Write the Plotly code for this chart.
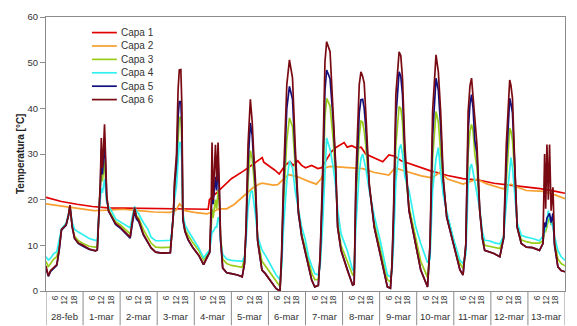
import plotly.graph_objects as go

# ---- data -------------------------------------------------------------
day_labels = ["28-feb", "1-mar", "2-mar", "3-mar", "4-mar", "5-mar", "6-mar",
              "7-mar", "8-mar", "9-mar", "10-mar", "11-mar", "12-mar", "13-mar"]
hour_ticks = [6, 12, 18]
series_names = ["Capa 1", "Capa 2", "Capa 3", "Capa 4", "Capa 5", "Capa 6"]

# Capa 1 (hours since 28-feb 00:00, temperature °C)
hours_c1 = [0, 10, 20, 30, 40, 60, 80, 100, 105, 105.8, 112, 120, 128, 134, 138, 140,
            141, 144, 148, 151, 153, 155, 158, 160, 163, 165.5, 168, 172, 176, 178.5,
            182, 185, 188, 193, 195, 198, 201, 204, 207, 213, 218, 222, 226, 230, 240,
            249, 260, 270, 280, 290, 300, 311, 320, 330, 336]
capa1 = [20.5, 19.6, 19.0, 18.5, 18.2, 18.1, 18.0, 17.9, 17.9, 20.0, 22.0, 24.6, 26.3,
         27.8, 28.6, 29.2, 28.2, 27.5, 26.5, 25.6, 26.5, 27.6, 28.3, 27.5, 28.5, 27.5,
         27.0, 27.5, 26.8, 27.0, 29.0, 30.6, 31.5, 32.5, 31.5, 31.8, 31.3, 31.5, 30.0,
         29.0, 28.3, 29.8, 29.5, 28.5, 27.3, 26.3, 25.3, 24.6, 24.3, 23.6, 23.2, 22.8,
         22.4, 21.8, 21.4]

# Capa 2
hours_c2 = [0, 10, 20, 31, 40, 50, 60, 70, 80, 84, 86.5, 90, 96, 104, 108, 112, 117,
            122, 128, 134, 138, 140, 147, 150, 157, 163, 170, 175, 178, 181, 184, 190,
            197, 205, 212, 222, 226, 230, 243, 250, 255, 260, 270, 279, 285, 296, 301,
            306, 311, 322, 330, 336]
capa2 = [19.1, 18.6, 18.2, 17.6, 17.7, 17.9, 17.6, 17.3, 17.2, 17.6, 19.1, 17.6, 17.2,
         16.9, 17.3, 18.0, 18.0, 19.0, 20.8, 22.6, 23.4, 23.6, 23.2, 23.3, 25.5, 25.0,
         24.0, 23.4, 24.5, 27.0, 27.3, 27.2, 27.0, 26.8, 26.0, 25.4, 27.0, 26.5, 25.2,
         24.8, 26.0, 24.5, 23.4, 24.5, 23.5, 22.4, 23.4, 22.6, 22.0, 21.8, 21.0, 20.2]

# Capas 3-6 share one set of sampling hours
hours_c36 = [0, 1.5, 3, 5, 7, 8.5, 10, 13, 14.5, 15.5, 17, 18.5, 21, 24, 28, 32, 33.2,
             34.3, 35.2, 35.8, 36.5, 37.2, 37.9, 38.6, 39.3, 40.5, 42, 45, 48, 52, 54.5,
             56, 57.4, 58.5, 60, 63, 66, 68, 71, 75, 80.5, 81.5, 82.5, 83.2, 84.5, 85.5,
             86.3, 87.3, 88, 88.6, 90, 92, 95, 99, 102, 104.5, 106, 107, 107.5, 108.2,
             109.7, 110.5, 111.4, 112.2, 113, 114.4, 117, 120, 124, 127, 128.5, 129.5,
             130.8, 132.3, 133.5, 134.5, 135.5, 137, 139.8, 142, 146, 149, 151.5, 152.5,
             153.8, 155.9, 157.6, 159.6, 161.3, 163.4, 165.5, 167.7, 170, 172, 174,
             176.3, 177.5, 179, 180.6, 181.7, 183.9, 186, 187.5, 188.8, 191, 195, 198.5,
             199.5, 200.6, 202.8, 203.9, 205, 206, 207, 209.3, 212.5, 216.8, 221, 223,
             224, 225, 226.5, 228.6, 229.7, 230.8, 232.3, 235, 239.4, 242.6, 247, 248.6,
             250.3, 252.5, 254, 255.5, 257.2, 259.4, 263.7, 268, 270, 271.8, 273.3,
             274.5, 275.5, 276.5, 277.6, 279, 280.8, 282.5, 284, 287, 290, 293.8, 296.3,
             298, 300.2, 301, 302, 303.4, 305, 307.7, 311, 315, 319.5, 321.7, 322.8,
             323.5, 324.3, 325.2, 326, 327, 328.2, 329.2, 331.4, 333.5, 336]

capa6 = [5.5, 3.3, 4.5, 5.2, 5.8, 9.0, 13.5, 14.5, 16.5, 18.8, 14.0, 11.5, 10.5, 10.0,
         9.2, 8.8, 9.0, 17.5, 24.0, 33.5, 27.0, 31.0, 36.5, 29.0, 21.0, 17.5, 16.5, 14.8,
         14.0, 12.5, 11.8, 15.5, 18.3, 16.2, 15.5, 12.5, 10.5, 9.5, 8.5, 8.3, 8.4, 12.0,
         17.0, 24.0, 30.0, 44.0, 48.4, 48.5, 40.0, 16.0, 13.0, 11.3, 9.6, 7.8, 5.8, 7.5,
         8.5, 20.0, 32.5, 20.0, 32.0, 24.0, 32.5, 23.0, 12.0, 5.0, 4.0, 3.8, 3.5, 3.1,
         6.0, 14.0, 32.0, 42.0, 37.0, 30.0, 24.8, 11.0, 4.6, 3.8, 2.0, 0.5, 0.0, 8.0,
         24.8, 45.2, 50.6, 46.6, 32.0, 17.6, 12.0, 8.9, 5.5, 2.4, 0.9, 1.2, 8.0, 24.8,
         50.2, 54.6, 52.4, 39.3, 28.0, 14.0, 8.9, 4.6, 1.3, 1.5, 24.8, 45.2, 48.0, 47.0,
         45.5, 39.3, 23.4, 14.0, 7.5, 0.9, 0.6, 6.0, 17.6, 43.0, 52.4, 51.5, 46.6, 32.1,
         17.6, 10.4, 4.6, 0.9, 10.4, 39.3, 51.7, 48.0, 39.3, 24.8, 16.2, 10.4, 4.6, 3.5,
         10.4, 39.3, 45.0, 46.6, 42.0, 36.5, 32.0, 17.6, 11.5, 8.9, 8.5, 8.2, 7.5, 11.8,
         32.1, 46.2, 45.0, 42.2, 28.5, 14.0, 10.4, 9.6, 9.5, 8.9, 10.4, 30.0, 18.0, 32.1,
         20.0, 32.1, 17.6, 22.7, 10.4, 5.3, 4.5, 4.2]

capa5 = [5.0, 3.2, 4.3, 5.0, 5.6, 8.8, 13.3, 14.4, 16.4, 18.6, 14.0, 11.5, 10.4, 9.8,
         9.1, 8.8, 9.0, 17.0, 23.0, 31.0, 25.5, 29.0, 33.5, 27.0, 20.5, 17.5, 16.5, 14.6,
         13.8, 12.3, 11.6, 15.0, 17.5, 15.8, 15.2, 12.3, 10.4, 9.4, 8.5, 8.3, 8.4, 12.0,
         17.0, 23.0, 28.0, 38.0, 41.5, 41.5, 35.0, 15.5, 13.0, 11.2, 9.5, 7.7, 5.8, 7.5,
         8.5, 17.0, 22.0, 19.0, 25.0, 22.0, 28.0, 22.0, 11.0, 5.0, 4.0, 3.8, 3.5, 3.1,
         6.0, 13.0, 28.0, 36.8, 34.0, 28.0, 23.5, 11.0, 4.6, 3.8, 2.0, 0.5, 0.0, 7.0,
         22.0, 40.0, 44.8, 42.0, 30.0, 17.0, 12.0, 8.9, 5.5, 2.4, 0.9, 1.2, 7.5, 22.0,
         44.0, 48.4, 46.5, 37.0, 27.0, 14.0, 8.9, 4.6, 1.3, 1.5, 22.0, 39.0, 41.9, 42.0,
         40.0, 36.0, 23.0, 14.0, 7.5, 0.9, 0.6, 5.5, 16.0, 38.0, 48.0, 47.0, 43.0, 30.0,
         17.6, 10.4, 4.6, 0.9, 9.5, 34.0, 46.6, 44.0, 36.0, 24.0, 16.2, 10.4, 4.6, 3.5,
         10.0, 35.0, 41.0, 43.0, 40.0, 33.0, 30.0, 17.6, 11.5, 8.9, 8.5, 8.2, 7.5, 11.5,
         28.0, 42.2, 41.0, 39.0, 28.0, 14.0, 10.4, 9.6, 9.5, 8.9, 10.4, 15.0, 14.0, 16.0,
         16.5, 17.0, 15.0, 17.0, 10.0, 5.3, 4.5, 4.2]

capa3 = [6.5, 5.3, 6.0, 7.0, 7.5, 9.8, 13.4, 14.6, 16.5, 18.5, 14.2, 12.0, 11.0, 10.4,
         9.8, 9.6, 9.8, 16.5, 22.0, 27.0, 24.0, 26.0, 28.5, 24.0, 20.0, 17.8, 17.0, 15.2,
         14.5, 13.2, 12.5, 15.5, 18.0, 16.5, 16.0, 13.5, 11.5, 10.5, 9.6, 9.5, 9.6, 12.5,
         17.0, 22.0, 26.0, 34.0, 38.0, 38.0, 32.0, 16.0, 13.5, 12.2, 10.6, 8.8, 6.8, 8.0,
         8.8, 14.0, 18.0, 16.0, 20.0, 18.0, 22.0, 20.0, 12.0, 7.0, 6.0, 5.6, 5.4, 5.2,
         7.0, 12.0, 24.0, 30.7, 29.0, 25.0, 21.0, 11.5, 6.5, 5.5, 3.5, 2.0, 1.0, 6.0,
         19.0, 33.0, 37.9, 36.0, 27.0, 17.0, 12.5, 9.8, 6.5, 4.0, 2.5, 2.5, 6.5, 19.0,
         38.0, 42.2, 40.5, 33.0, 25.0, 15.0, 10.0, 6.5, 3.5, 3.5, 19.0, 34.0, 37.2, 37.0,
         35.0, 32.0, 22.5, 15.0, 8.8, 2.5, 2.0, 5.0, 13.0, 32.0, 40.4, 40.0, 37.0, 27.0,
         18.5, 11.5, 6.5, 3.0, 8.5, 29.0, 39.3, 37.0, 31.0, 23.0, 17.0, 11.2, 6.0, 5.0,
         9.0, 30.0, 35.0, 36.5, 35.0, 30.0, 27.0, 17.5, 12.5, 10.0, 9.8, 9.6, 9.3, 11.5,
         24.0, 35.7, 35.0, 33.0, 26.0, 14.5, 11.2, 10.8, 10.5, 10.5, 11.0, 13.0, 13.0,
         14.0, 15.5, 16.0, 14.5, 15.0, 11.0, 7.0, 6.0, 5.5]

capa4 = [7.5, 6.8, 7.2, 8.2, 8.6, 11.0, 13.6, 14.8, 16.8, 18.3, 15.0, 13.5, 12.9, 12.3,
         11.5, 11.1, 11.2, 17.0, 21.0, 22.5, 21.5, 23.0, 24.5, 22.0, 19.5, 18.5, 17.8,
         15.8, 15.2, 14.4, 13.8, 16.5, 18.5, 17.5, 16.9, 15.0, 13.5, 11.8, 11.0, 11.0,
         11.1, 13.0, 17.0, 20.0, 23.0, 29.0, 32.5, 32.5, 28.0, 17.0, 14.5, 13.2, 11.5,
         9.4, 7.3, 8.5, 9.0, 11.5, 13.0, 13.0, 14.0, 14.0, 16.0, 16.0, 11.0, 8.0, 7.0,
         6.7, 6.6, 6.5, 7.5, 11.0, 18.0, 21.5, 22.0, 20.0, 17.0, 12.0, 9.0, 7.8, 5.5, 3.5,
         2.5, 5.0, 14.0, 24.0, 28.5, 27.0, 22.0, 18.0, 14.0, 11.5, 7.5, 5.5, 3.8, 3.5,
         5.5, 14.0, 28.0, 33.5, 31.0, 27.0, 23.0, 18.0, 12.5, 8.9, 4.6, 4.5, 14.0, 26.0,
         29.0, 30.0, 28.5, 27.0, 22.0, 16.5, 10.4, 3.5, 3.1, 4.5, 10.0, 24.0, 31.0, 32.1,
         30.0, 25.0, 22.0, 14.0, 10.4, 6.2, 7.0, 22.0, 29.0, 31.4, 26.0, 21.0, 17.5,
         11.5, 6.7, 6.0, 8.0, 23.0, 27.0, 27.8, 26.0, 24.0, 22.0, 18.0, 13.0, 11.1, 11.0,
         10.6, 10.3, 12.0, 19.0, 27.0, 29.2, 27.0, 22.0, 15.0, 12.2, 11.8, 11.5, 11.0,
         12.0, 13.3, 14.0, 15.0, 17.6, 16.0, 15.0, 14.0, 12.0, 8.9, 7.5, 6.7]

# ---- styling -----------------------------------------------------------
colors = ["#e00000", "#f7a030", "#9acd1a", "#30f0f0", "#10107f", "#7a0a12"]
font_family = "Liberation Sans, Arial, sans-serif"
axis_grey = "#8c8c8c"
text_grey = "#333333"

hours_list = [hours_c1, hours_c2, hours_c36, hours_c36, hours_c36, hours_c36]
values_list = [capa1, capa2, capa3, capa4, capa5, capa6]

fig = go.Figure()
for name, xs, ys, col in zip(series_names, hours_list, values_list, colors):
    fig.add_trace(go.Scatter(x=xs, y=ys, mode="lines", name=name,
                             line=dict(color=col, width=1.7), showlegend=False))

n_days = len(day_labels)
tickvals = [d * 24 + h for d in range(n_days) for h in hour_ticks]
ticktext = [str(h) for d in range(n_days) for h in hour_ticks]

shapes = []
annotations = []
# day separators below the plot area
for d in range(n_days + 1):
    shapes.append(dict(type="line", xref="x", yref="paper", x0=d * 24, x1=d * 24,
                       y0=0, y1=-0.125, line=dict(color=axis_grey, width=1)))
# day names
for d, lab in enumerate(day_labels):
    annotations.append(dict(x=d * 24 + 12, y=-0.094, xref="x", yref="paper",
                            text=lab, showarrow=False, xanchor="center", yanchor="middle",
                            font=dict(size=9.5, color=text_grey, family=font_family)))

# legend box
leg_x0, leg_x1, leg_tx = 0.0885, 0.1365, 0.141
for i, (name, col) in enumerate(zip(series_names, colors)):
    y_paper = (291 - (30.7 + 13.5 * i)) / 276
    shapes.append(dict(type="line", xref="paper", yref="paper", x0=leg_x0, x1=leg_x1,
                       y0=y_paper, y1=y_paper, line=dict(color=col, width=1.7)))
    annotations.append(dict(x=leg_tx, y=y_paper, xref="paper", yref="paper", text=name,
                            showarrow=False, xanchor="left", yanchor="middle",
                            font=dict(size=10, color=text_grey, family=font_family)))

# y-axis title
annotations.append(dict(x=-0.05, y=0.5, xref="paper", yref="paper",
                        text="<b>Temperatura [°C]</b>", textangle=-90, showarrow=False,
                        xanchor="center", yanchor="middle",
                        font=dict(size=10, color="#222222", family=font_family)))

fig.update_layout(
    width=577, height=326,
    margin=dict(l=46, r=11, t=15, b=35),
    paper_bgcolor="white", plot_bgcolor="white",
    font=dict(family=font_family, color=text_grey),
    shapes=shapes, annotations=annotations,
    xaxis=dict(range=[0, 336], showgrid=False, zeroline=False, showline=True,
               linecolor=axis_grey, linewidth=1, mirror=True, ticks="",
               tickmode="array", tickvals=tickvals, ticktext=ticktext, tickangle=-90,
               tickfont=dict(size=8.5, color=text_grey, family=font_family)),
    yaxis=dict(range=[0, 60], dtick=10, showgrid=False, zeroline=False, showline=True,
               linecolor=axis_grey, linewidth=1, mirror=True, ticks="outside",
               ticklen=5, tickcolor=axis_grey,
               tickfont=dict(size=9.5, color=text_grey, family=font_family)),
)

fig.write_html("out.html")
